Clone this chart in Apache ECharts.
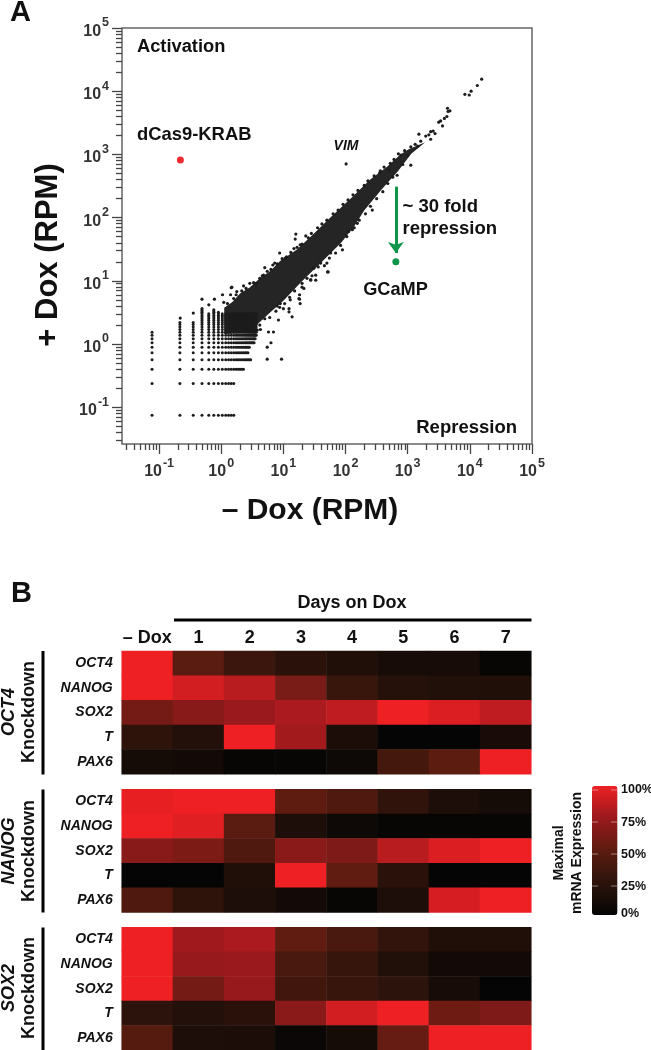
<!DOCTYPE html>
<html><head><meta charset="utf-8">
<style>html,body{margin:0;padding:0;background:#fff}#c{width:651px;height:1050px}</style>
<script src="https://cdn.jsdelivr.net/npm/echarts@6/dist/echarts.min.js"></script>
</head><body><div id="c"></div>
<script>
// ---------- Panel A: values ----------
const dCas9 = [0.22, 815];
const gcamp = [645, 20];
const vim = [102, 708];
const arrowFrom = [645, 309];
const arrowTo = [645, 27.5];
// count lattice at low expression (RPM)
const latticeX = [0.077,0.216,0.354,0.49,0.63,0.76,0.90,1.04,1.18,1.31,1.45,1.59,1.73,1.86,2.0,2.14,2.28,2.42,2.55,2.69,2.83,2.97,3.11,3.25,3.38,3.52,3.66];
const latticeY = [0.075,0.238,0.40,0.563,0.726,0.889,1.05,1.21,1.38,1.54,1.70,1.86,2.03,2.19,2.35,2.52,2.68,2.84,3.0,3.17,3.33,3.49,3.66];
const rowMaxX = [1.7,1.7,2.28,3.0,2.69,2.83,3.38,3.52,3.66,3.66,3.66,3.66,3.66,3.66,3.66,3.66,3.66,3.66,3.66,3.66,3.66,3.66,3.66];
const colMaxY = [1.54,2.19,2.2,3.66,3.0,3.49,3.17,3.0,3.0,3.0,3.0,3.0,3.0,3.0,3.0,3.0,3.0,3.0,3.0,3.0,3.0,3.0,3.0,3.0,3.0,3.0,3.0];
// outline of the saturated cloud, in log10 RPM [-Dox, +Dox]
const cloudUpper = [[.06,.57],[.18,.65],[.31,.79],[.47,.89],[.63,1.03],[.79,1.14],[.95,1.30],[1.23,1.49],[1.48,1.72],[1.76,1.99],[2.13,2.33],[2.40,2.59],[2.68,2.80],[2.89,2.99],[3.02,3.07],[3.21,3.15]];
const cloudLower = [[3.05,3.02],[2.84,2.75],[2.56,2.44],[2.29,2.12],[2.13,1.87],[1.92,1.61],[1.60,1.30],[1.27,.98],[1.00,.70],[.76,.49],[.55,.30],[.39,.19],[.06,.17]];
// genes sitting on the rim of the cloud, in log10 RPM [-Dox, +Dox]
const rimUpper = [[.10,.64],[.20,.72],[.24,.78],[.33,.84],[.40,.88],[.52,.97],[.56,.96],[.68,1.09],[.74,1.15],[.80,1.18],[.90,1.27],[.98,1.35],[1.05,1.38],[1.12,1.45],[1.22,1.53],[1.30,1.58],[1.40,1.68],[1.45,1.75],[1.55,1.84],[1.62,1.90],[1.70,1.96],[1.80,2.06],[1.88,2.12],[1.96,2.21],[2.04,2.28],[2.12,2.36],[2.20,2.43],[2.30,2.51],[2.36,2.58],[2.46,2.66],[2.55,2.71],[2.62,2.80],[2.72,2.86],[2.78,2.92],[2.85,3.01],[2.95,3.06],[3.05,3.12],[3.12,3.16]];
const rimLower = [[3.0,2.98],[2.92,2.84],[2.76,2.64],[2.68,2.54],[2.60,2.41],[2.50,2.30],[2.40,2.18],[2.32,2.06],[2.22,1.96],[2.14,1.84],[2.02,1.70],[1.92,1.56],[1.84,1.44],[1.74,1.36],[1.66,1.24],[1.56,1.22],[1.46,1.08],[1.38,1.04],[1.30,.90],[1.18,.84],[1.10,.74],[1.02,.64],[.94,.58],[.88,.52],[.78,.42],[.70,.40],[.62,.30],[.54,.24],[.46,.22]];
// isolated genes around the cloud, in log10 RPM [-Dox, +Dox]
const outliers = [[4.19,4.19],[4.12,4.09],[4.02,4.00],[3.99,3.94],[3.92,3.95],[3.64,3.73],[3.68,3.69],[3.65,3.68],[3.63,3.60],[3.59,3.57],[3.53,3.53],[3.50,3.51],[3.56,3.45],[3.41,3.37],[3.44,3.33],[3.37,3.36],[3.34,3.31],[3.29,3.29],[3.18,3.32],[3.37,3.24],[3.21,3.21],[3.16,3.13],[3.05,2.83],[2.89,2.99],[2.83,2.67],[2.70,2.75],[2.56,2.74],[2.43,2.12],[2.19,1.91],[2.11,1.81],[2.05,1.78],[1.95,1.49],[1.71,1.14],
[1.20,1.74],[1.19,1.66],[1.36,1.71],[.94,1.44],[.70,1.21],[.83,1.25],[.86,1.28],[.46,.96],[.36,.92],[.16,.89],[.66,1.08],[.62,1.04],[1.27,1.57],[1.17,1.51],[1.03,1.36],
[1.72,1.14],[1.52,1.09],[1.44,1.02],[1.49,1.20],[1.30,.96],[1.26,.78],[1.26,.71],[1.27,.64],[1.11,.70],[.90,.60],[.95,.64],[1.00,.56],[1.09,.56],[1.70,1.28],[1.60,1.28],[1.76,1.44],
[1.52,1.01],[1.44,1.01],[1.33,.88],[1.25,.72],[1.14,.43],[1.09,.51],[.92,.38],[.84,.19],[.76,.19],[.80,.02],[.74,-.05],[.74,-.24],[.97,-.24],[.58,.22],[.63,.23],
[-.31,.71],[-.20,.62],[-.11,.71],[.02,.78],[.17,.90],[.25,.83],[.15,.78],[.04,.66],[-.66,.41],[-.45,.49]];
const majorTicks = [0.1,1,10,100,1000,10000,100000];
const tickDecades = [0.01,0.1,1,10,100,1000,10000];
const tickMultipliers = [2,3,4,5,6,7,8,9];

// ---------- Panel B ----------
const columns = ['– Dox','1','2','3','4','5','6','7'];
const genes = ['OCT4','NANOG','SOX2','T','PAX6'];
const oct4Knockdown = [
 [100,49,33,24,17,12,12,2],
 [100,92,84,62,32,21,18,17],
 [60,68,75,80,86,100,94,86],
 [26,20,100,78,15,0,0,13],
 [10,9,1,1,6,38,50,100]];
const nanogKnockdown = [
 [98,100,100,51,43,27,16,10],
 [100,96,49,16,6,1,1,1],
 [68,63,43,69,64,84,94,100],
 [0,0,17,100,52,24,0,0],
 [43,26,16,9,2,16,93,100]];
const sox2Knockdown = [
 [100,77,80,52,40,28,17,17],
 [100,74,75,40,30,18,9,9],
 [100,60,74,36,31,25,12,0],
 [25,19,24,69,92,100,57,64],
 [47,16,15,4,10,54,100,100]];
const legendLabels = ['100%','75%','50%','25%','0%'];

// ---------- building ----------
const pow = p => [Math.pow(10,p[0]), Math.pow(10,p[1])];
const latticePts = [];
latticeX.forEach((x,i)=>latticeY.forEach((y,j)=>{ if(x<=rowMaxX[j] && y<=colMaxY[i]) latticePts.push([x,y]); }));
const minorTicks = [];
tickDecades.forEach(d=>tickMultipliers.forEach(m=>{ const v=d*m; if(v>0.0262 && v<100000) minorTicks.push(v); }));
const cellsOf = b => { const o=[]; b.forEach((r,j)=>r.forEach((v,i)=>o.push([i,j,v]))); return o; };

const FONT = '"Liberation Sans", Arial, sans-serif';
const tickLabel = {
  customValues: majorTicks, fontFamily: FONT, color:'#333', margin: 13,
  formatter: v => `{b|10}{s|${Math.round(Math.log10(v))}}`,
  rich:{ b:{fontFamily:FONT,fontSize:16,fontWeight:'bold',color:'#333',verticalAlign:'bottom',padding:[7,0,0,0]},
         s:{fontFamily:FONT,fontSize:12.5,fontWeight:'bold',color:'#333',verticalAlign:'top',padding:[0,0,0,1]} }
};
const tickCol = '#444';
const logAxis = (min,extra) => Object.assign({type:'log',logBase:10,min:min,max:100000,splitLine:{show:false},axisLine:{show:false},minorTick:{show:false}},extra);

const blockTops = [651,789.3,927.3];
const blocks = [oct4Knockdown,nanogKnockdown,sox2Knockdown];
const GX=121.7, GW=409.6, GH=123.2;

const grids = [{left:122,top:28,width:410,height:416,show:true,borderColor:'#666',borderWidth:1.5,backgroundColor:'#fff'}];
const xAxes = [
  logAxis(0.0253,{gridIndex:0,position:'bottom',name:'– Dox (RPM)',nameLocation:'middle',nameGap:52,
    nameTextStyle:{fontFamily:FONT,fontSize:30,fontWeight:'bold',color:'#111',padding:[0,34,0,0]},
    axisTick:{show:true,length:10,customValues:majorTicks,lineStyle:{color:tickCol,width:1.3}},axisLabel:tickLabel}),
  logAxis(0.0253,{gridIndex:0,position:'bottom',axisTick:{show:true,length:6,customValues:minorTicks,lineStyle:{color:tickCol,width:1.3}},axisLabel:{show:false}})
];
const yAxes = [
  logAxis(0.0262,{gridIndex:0,position:'left',name:'+ Dox (RPM)',nameLocation:'middle',nameGap:58,
    nameTextStyle:{fontFamily:FONT,fontSize:31,fontWeight:'bold',color:'#111',padding:[0,38,0,0]},
    axisTick:{show:true,length:10,customValues:majorTicks,lineStyle:{color:tickCol,width:1.3}},axisLabel:tickLabel}),
  logAxis(0.0262,{gridIndex:0,position:'left',axisTick:{show:true,length:6,customValues:minorTicks,lineStyle:{color:tickCol,width:1.3}},axisLabel:{show:false}})
];
const heatSeries = [];
blocks.forEach((b,k)=>{
  const gi=k+1, ai=k+2;
  grids.push({left:GX,top:blockTops[k],width:GW,height:GH});
  xAxes.push({type:'category',gridIndex:gi,data:columns,position:'top',axisLine:{show:false},axisTick:{show:false},splitLine:{show:false},
    axisLabel:{show:k===0,interval:0,margin:4,fontFamily:FONT,fontSize:18,fontWeight:'bold',color:'#111'}});
  yAxes.push({type:'category',gridIndex:gi,data:genes,inverse:true,axisLine:{show:false},axisTick:{show:false},splitLine:{show:false},
    axisLabel:{interval:0,margin:9,fontFamily:FONT,fontSize:14,fontWeight:'bold',fontStyle:'italic',color:'#111'}});
  heatSeries.push({type:'heatmap',xAxisIndex:ai,yAxisIndex:ai,data:cellsOf(b),animation:false,silent:true,itemStyle:{borderWidth:0}});
});

const txt = (x,y,text,size,o) => ({type:'text',x,y,silent:true,z:50,rotation:(o&&o.rot)||0,
  style:{text,fontFamily:FONT,fontSize:size,fontWeight:'bold',fontStyle:(o&&o.italic)?'italic':'normal',fill:(o&&o.fill)||'#111',align:(o&&o.align)||'left',verticalAlign:'middle'}});
const R=Math.PI/2;
const graphic = [
  txt(10,13,'A',29), txt(11,594,'B',29),
  txt(137,47,'Activation',18.3), txt(137,135,'dCas9-KRAB',18.4), txt(517,428,'Repression',18.5,{align:'right'}),
  txt(346,146.5,'VIM',14,{italic:true,align:'center'}),
  txt(402.5,206.5,'~ 30 fold',18.5), txt(402.5,229,'repression',18.5), txt(395.5,290,'GCaMP',18.2,{align:'center'}),
  txt(352,603,'Days on Dox',18,{align:'center'}),
  {type:'rect',silent:true,shape:{x:174,y:618.5,width:357.5,height:3},style:{fill:'#000'}},
  {type:'rect',silent:true,shape:{x:41.5,y:651,width:3,height:123.5},style:{fill:'#000'}},
  {type:'rect',silent:true,shape:{x:41.5,y:789.5,width:3,height:123},style:{fill:'#000'}},
  {type:'rect',silent:true,shape:{x:41.5,y:927.5,width:3,height:122.5},style:{fill:'#000'}},
  txt(9,712,'OCT4',18,{italic:true,rot:R,align:'center'}), txt(29,712,'Knockdown',18,{rot:R,align:'center'}),
  txt(9,851,'NANOG',18,{italic:true,rot:R,align:'center'}), txt(29,851,'Knockdown',18,{rot:R,align:'center'}),
  txt(9,988,'SOX2',18,{italic:true,rot:R,align:'center'}), txt(29,988,'Knockdown',18,{rot:R,align:'center'}),
  txt(559,853,'Maximal',14,{rot:R,align:'center'}), txt(577,853,'mRNA Expression',14,{rot:R,align:'center'})
];
[790,822,854,886].forEach(y=>{
  graphic.push({type:'rect',silent:true,z:100,shape:{x:592,y:y-0.5,width:6,height:1},style:{fill:'rgba(255,255,255,.45)'}});
  graphic.push({type:'rect',silent:true,z:100,shape:{x:611,y:y-0.5,width:6,height:1},style:{fill:'rgba(255,255,255,.45)'}});
});
[790,822.5,855,887,914].forEach((y,i)=>graphic.push(txt(621,y,legendLabels[i],12.5)));

const option = {
  backgroundColor:'#fff', animation:false, textStyle:{fontFamily:FONT},
  grid:grids, xAxis:xAxes, yAxis:yAxes, graphic,
  visualMap:{type:'continuous',min:0,max:100,seriesIndex:[5,6,7],calculable:false,orient:'vertical',left:577,top:771,itemWidth:25.5,itemHeight:129,text:null,showLabel:false,
    inRange:{color:['#050505','#2c130b','#5c1c10','#99191c','#ee2024']}},
  series:[
    {type:'custom',xAxisIndex:0,yAxisIndex:0,silent:true,z:2,data:cloudUpper.concat(cloudLower).map(pow),
      renderItem:(p,api)=>{ if(p.dataIndex!==0) return null;
        const pts=cloudUpper.concat(cloudLower).map(pow).map(d=>api.coord(d));
        return {type:'polygon',shape:{points:pts},style:{fill:'#252525',stroke:'#252525',lineWidth:1.5}}; }},
    {type:'scatter',name:'lattice',xAxisIndex:0,yAxisIndex:0,data:latticePts,symbolSize:3,silent:true,z:3,itemStyle:{color:'#1c1c1c',opacity:1}},
    {type:'scatter',name:'genes',xAxisIndex:0,yAxisIndex:0,data:outliers.concat(rimUpper,rimLower).map(pow).concat([vim]),symbolSize:3.2,silent:true,z:3,itemStyle:{color:'#1c1c1c',opacity:1}},
    {type:'scatter',name:'dCas9-KRAB',xAxisIndex:0,yAxisIndex:0,data:[dCas9],symbolSize:7,silent:true,z:4,itemStyle:{color:'#ee2b30',opacity:1}},
    {type:'scatter',name:'GCaMP',xAxisIndex:0,yAxisIndex:0,data:[gcamp],symbolSize:7,silent:true,z:4,itemStyle:{color:'#0e9549',opacity:1},
      markLine:{silent:true,animation:false,symbolSize:[12,11],label:{show:false},lineStyle:{color:'#0e9549',width:3,type:'solid',opacity:1},
        data:[[{coord:arrowFrom,symbol:'none'},{coord:arrowTo,symbol:'arrow'}]]}},
    ...heatSeries
  ]
};
const chart = echarts.init(document.getElementById('c'),null,{renderer:'canvas',width:651,height:1050});
chart.setOption(option);
</script></body></html>
